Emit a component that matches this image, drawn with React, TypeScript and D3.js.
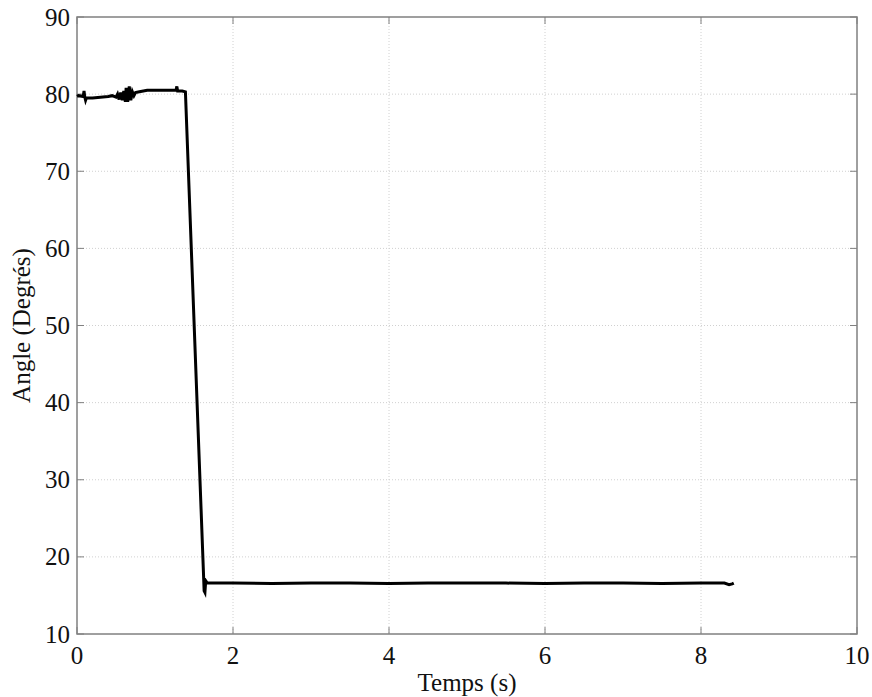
import React from "react";
import * as d3 from "d3";

const xTicks = [0, 2, 4, 6, 8, 10];
const yTicks = [10, 20, 30, 40, 50, 60, 70, 80, 90];
const timeS = [
  0, 0.02, 0.08, 0.09, 0.1, 0.11, 0.12, 0.2, 0.3, 0.4, 0.45, 0.5, 0.52, 0.54, 0.56, 0.58, 0.6, 0.62, 0.63,
  0.65, 0.67, 0.69, 0.71, 0.73, 0.75, 0.8, 0.85, 0.9, 1.0, 1.1, 1.2, 1.27, 1.28, 1.29, 1.35, 1.39, 1.63,
  1.64, 1.65, 1.67, 2.0, 2.5, 3.0, 3.5, 4.0, 4.5, 5.0, 5.5, 6.0, 6.5, 7.0, 7.5, 8.0, 8.3, 8.36, 8.4, 8.42,
];
const angleDeg = [
  79.7, 79.8, 79.7, 80.4, 79.6, 79.2, 79.5, 79.5, 79.6, 79.7, 79.8, 79.6, 80.0, 79.3, 80.2, 79.2, 80.4, 79.0, 80.8,
  79.0, 81.0, 79.2, 80.3, 79.8, 80.2, 80.3, 80.4, 80.5, 80.5, 80.5, 80.5, 80.5, 81.0, 80.4, 80.4, 80.3, 15.6,
  15.4, 16.9, 16.6, 16.6, 16.55, 16.6, 16.6, 16.55, 16.6, 16.6, 16.6, 16.55, 16.6, 16.6, 16.55, 16.6, 16.6, 16.4, 16.5, 16.6,
];

const W = 872;
const H = 697;
const L = 77;
const R = 857;
const T = 17;
const B = 634;

export default function App() {
  const x = d3.scaleLinear().domain([0, 10]).range([L, R]);
  const y = d3.scaleLinear().domain([10, 90]).range([B, T]);
  const pts = timeS.map((t, i) => [t, angleDeg[i]] as [number, number]);
  const line = d3
    .line<[number, number]>()
    .x((d) => x(d[0]))
    .y((d) => y(d[1]));
  const font = "'Liberation Serif', 'Times New Roman', serif";
  const ts = { fontFamily: font };
  return (
    <svg
      width={W}
      height={H}
      style={{ position: "absolute", left: 0, top: 0, background: "#fff" }}
    >
      <rect x={0} y={0} width={W} height={H} fill="#fff" />
      {xTicks.slice(1, -1).map((t) => (
        <line key={"gx" + t} x1={x(t)} x2={x(t)} y1={T} y2={B} stroke="#d0d0d0" strokeWidth={1} strokeDasharray="1,2" />
      ))}
      {yTicks.slice(1, -1).map((t) => (
        <line key={"gy" + t} x1={L} x2={R} y1={y(t)} y2={y(t)} stroke="#d0d0d0" strokeWidth={1} strokeDasharray="1,2" />
      ))}
      {xTicks.map((t) => (
        <g key={"tx" + t}>
          <line x1={x(t)} x2={x(t)} y1={B} y2={B - 7} stroke="#808080" strokeWidth={1} />
          <line x1={x(t)} x2={x(t)} y1={T} y2={T + 7} stroke="#808080" strokeWidth={1} />
          <text x={x(t)} y={B + 30} textAnchor="middle" fontSize={25} fill="#111" style={ts}>
            {t}
          </text>
        </g>
      ))}
      {yTicks.map((t) => (
        <g key={"ty" + t}>
          <line x1={L} x2={L + 7} y1={y(t)} y2={y(t)} stroke="#808080" strokeWidth={1} />
          <line x1={R} x2={R - 7} y1={y(t)} y2={y(t)} stroke="#808080" strokeWidth={1} />
          <text x={L - 7} y={y(t) + 8.5} textAnchor="end" fontSize={25} fill="#111" style={ts}>
            {t}
          </text>
        </g>
      ))}
      <rect x={L} y={T} width={R - L} height={B - T} fill="none" stroke="#808080" strokeWidth={1.5} />
      <path d={line(pts) || ""} fill="none" stroke="#000" strokeWidth={3} strokeLinejoin="miter" />
      <text x={(L + R) / 2} y={691} textAnchor="middle" fontSize={25} fill="#111" style={ts}>
        Temps (s)
      </text>
      <text
        transform={`translate(30, ${(T + B) / 2}) rotate(-90)`}
        textAnchor="middle"
        fontSize={25}
        fill="#111"
        style={ts}
      >
        Angle (Degrés)
      </text>
    </svg>
  );
}
